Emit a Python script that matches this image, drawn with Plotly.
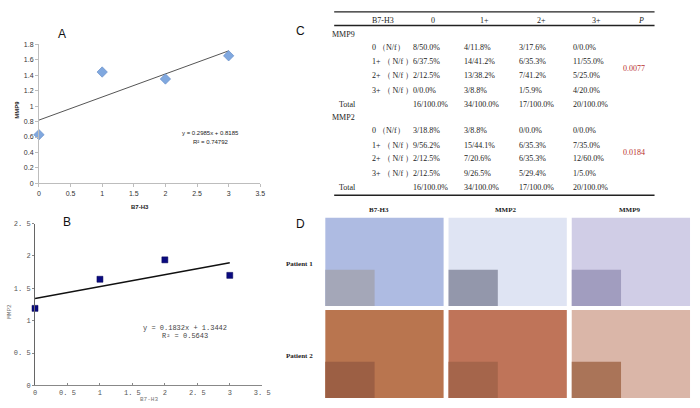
import plotly.graph_objects as go

W, H = 700, 408

# ---- panel A / B data ----
b7h3_score = [0, 1, 2, 3]
mmp9_mean = [0.63, 1.44, 1.35, 1.65]
mmp2_mean = [1.19, 1.64, 1.94, 1.70]
fit_a = [0.2985, 0.8185]   # slope, intercept
fit_b = [0.1832, 1.3442]
eq_a = ["y = 0.2985x + 0.8185", "R² = 0.74792"]
eq_b = ["y = 0.1832x + 1.3442", "R² = 0.5643"]

# ---- panel C table ----
table_head = ["B7-H3", "0", "1+", "2+", "3+", "P"]
levels = ["0 （N/f）", "1+ （ N/f ）", "2+ （ N/f ）", "3+ （ N/f ）"]
mmp9_n = [[8, 4, 3, 0], [6, 14, 6, 11], [2, 13, 7, 5], [0, 3, 1, 4]]
mmp9_pct = [[50.0, 11.8, 17.6, 0.0], [37.5, 41.2, 35.3, 55.0],
            [12.5, 38.2, 41.2, 25.0], [0.0, 8.8, 5.9, 20.0]]
mmp2_n = [[3, 3, 0, 0], [9, 15, 6, 7], [2, 7, 6, 12], [2, 9, 5, 1]]
mmp2_pct = [[18.8, 8.8, 0.0, 0.0], [56.2, 44.1, 35.3, 35.0],
            [12.5, 20.6, 35.3, 60.0], [12.5, 26.5, 29.4, 5.0]]
totals = [16, 34, 17, 20]
p_values = ["0.0077", "0.0184"]

# ---- panel D ----
stains = ["B7-H3", "MMP2", "MMP9"]
patients = ["Patient 1", "Patient 2"]


def px(x):
    return x / W


def py(y):
    return 1 - y / H


sans = "Liberation Sans, Arial, sans-serif"
serif = "Liberation Serif, Times New Roman, serif"
mono = "Liberation Mono, Courier New, monospace"

fig = go.Figure()

# A
fig.add_trace(go.Scatter(
    x=[b7h3_score[0], b7h3_score[-1]],
    y=[fit_a[1] + fit_a[0] * b7h3_score[0], fit_a[1] + fit_a[0] * b7h3_score[-1]],
    mode="lines", line=dict(color="#555555", width=1),
    xaxis="x", yaxis="y", showlegend=False, hoverinfo="skip"))
fig.add_trace(go.Scatter(
    x=b7h3_score, y=mmp9_mean, mode="markers",
    marker=dict(symbol="diamond", size=8, color="#80a8df",
                line=dict(color="#5f88c4", width=0.6)),
    xaxis="x", yaxis="y", showlegend=False, cliponaxis=False))

# B
fig.add_trace(go.Scatter(
    x=[b7h3_score[0], b7h3_score[-1]],
    y=[fit_b[1] + fit_b[0] * b7h3_score[0], fit_b[1] + fit_b[0] * b7h3_score[-1]],
    mode="lines", line=dict(color="#111111", width=1.5),
    xaxis="x2", yaxis="y2", showlegend=False, hoverinfo="skip"))
fig.add_trace(go.Scatter(
    x=b7h3_score, y=mmp2_mean, mode="markers",
    marker=dict(symbol="square", size=6, color="#0a0a80",
                line=dict(color="#000050", width=0.5)),
    xaxis="x2", yaxis="y2", showlegend=False, cliponaxis=False))

tick_a = dict(family=sans, size=7, color="#333333")
tick_b = dict(family=mono, size=7, color="#555555")
half_steps = [i * 0.5 for i in range(8)]

fig.update_layout(
    width=W, height=H,
    margin=dict(l=0, r=0, t=0, b=0),
    paper_bgcolor="white", plot_bgcolor="white",
    xaxis=dict(domain=[px(37.5), px(262)], range=[0, 3.5], dtick=0.5,
               showgrid=False, zeroline=False, showline=True,
               linecolor="#bdbdbd", ticks="outside", ticklen=3,
               tickcolor="#bdbdbd", tickfont=tick_a),
    yaxis=dict(domain=[py(183), py(41)], range=[0, 1.8], dtick=0.2,
               showgrid=False, zeroline=False, showline=True,
               linecolor="#bdbdbd", ticks="outside", ticklen=3,
               tickcolor="#bdbdbd", tickfont=tick_a),
    xaxis2=dict(domain=[px(33.5), px(264)], range=[0, 3.5],
                tickvals=half_steps,
                ticktext=[f"{v:g}".replace(".", ". ") for v in half_steps],
                showgrid=False, zeroline=False, showline=True,
                linecolor="#888888", ticks="inside", ticklen=2,
                tickcolor="#888888", tickfont=tick_b, anchor="y2"),
    yaxis2=dict(domain=[py(389), py(224)], range=[0, 2.5],
                tickvals=half_steps[:6],
                ticktext=[f"{v:g}".replace(".", ". ") for v in half_steps[:6]],
                showgrid=False, zeroline=False, showline=True,
                linecolor="#666666", ticks="outside", ticklen=2,
                tickcolor="#888888", tickfont=tick_b, anchor="x2"),
)

ann = []


def txt(x, y, s, size=8, family=serif, color="#222222", xanchor="left",
        yanchor="middle", **kw):
    ann.append(dict(x=px(x), y=py(y), xref="paper", yref="paper", text=s,
                    showarrow=False, xanchor=xanchor, yanchor=yanchor,
                    font=dict(family=family, size=size, color=color), **kw))


# panel letters
txt(61, 31, "A", size=12, family=sans, color="#111111", xanchor="center")
txt(66, 222, "B", size=12, family=sans, color="#111111", xanchor="center")
txt(303, 28, "C", size=12, family=sans, color="#111111", xanchor="center")
txt(303, 224, "D", size=12, family=sans, color="#111111", xanchor="center")

# A titles and equation
txt(140, 207, "<b>B7-H3</b>", size=6, family=sans, xanchor="center")
txt(15, 108, "<b>MMP9</b>", size=6, family=sans, xanchor="center", textangle=-90)
txt(212, 132, eq_a[0], size=6, family=sans, xanchor="center")
txt(212, 141, eq_a[1], size=6, family=sans, xanchor="center")

# B titles and equation
txt(149, 407.5, "B7-H3", size=6, family=mono, color="#777777", xanchor="center",
    yanchor="bottom", borderpad=0)
txt(8, 313, "MMP2", size=6, family=mono, color="#777777", xanchor="center", textangle=-90)
txt(186, 330, eq_b[0], size=7, family=mono, color="#444444", xanchor="center")
txt(186, 339, eq_b[1], size=7, family=mono, color="#444444", xanchor="center")

# C table
head_x = [373, 437, 490, 547, 603, 648]
for i, h in enumerate(table_head):
    if i == 0:
        txt(head_x[i], 17, h)
    elif h == "P":
        txt(head_x[i], 17, "<i>P</i>", xanchor="center")
    else:
        txt(head_x[i], 17, h, xanchor="center")

val_x = [415, 467, 522, 577]
blocks = [("MMP9", mmp9_n, mmp9_pct, 31, p_values[0]),
          ("MMP2", mmp2_n, mmp2_pct, 116, p_values[1])]
for name, counts, pcts, y0, pv in blocks:
    txt(333, y0, name)
    row_y = [y0 + 13, y0 + 28, y0 + 42, y0 + 57]
    for r, lev in enumerate(levels):
        txt(373, row_y[r], lev)
        for c in range(4):
            txt(val_x[c], row_y[r], f"{counts[r][c]}/{pcts[r][c]:.1f}%")
    txt(628, (row_y[1] + row_y[2]) / 2, pv, color="#b8312f")
    txt(340, y0 + 71, "Total")
    for c in range(4):
        txt(val_x[c], y0 + 71, f"{totals[c]}/100.0%")

# D labels
col_x = [328, 453, 578]
row_top = [218, 312]
stain_x = [382, 511, 637]
for i, s in enumerate(stains):
    txt(stain_x[i], 210, f"<b>{s}</b>", size=7, xanchor="center")
for j, p in enumerate(patients):
    txt(302, row_top[j] + 47, f"<b>{p}</b>", size=7, xanchor="center")

shapes = []
for yl in [8, 22, 195]:
    shapes.append(dict(type="line", xref="paper", yref="paper",
                       x0=px(337), x1=px(662), y0=py(yl), y1=py(yl),
                       line=dict(color="#222222", width=1.4)))

# micrograph tiles: main colour, inset colour
tile_colors = [
    [("#aebbe2", "#a4a7b8"), ("#dfe4f3", "#9397ab"), ("#d0cde6", "#a19dbf")],
    [("#b9754f", "#9c5f44"), ("#bf7459", "#a5654b"), ("#dab6a8", "#aa7458")],
]
for j in range(2):
    for i in range(3):
        main_c, inset_c = tile_colors[j][i]
        x0, y0 = col_x[i], row_top[j]
        shapes.append(dict(type="rect", xref="paper", yref="paper",
                           x0=px(x0), x1=px(x0 + 120), y0=py(y0 + 90), y1=py(y0),
                           fillcolor=main_c, line=dict(width=0), layer="below"))
        shapes.append(dict(type="rect", xref="paper", yref="paper",
                           x0=px(x0), x1=px(x0 + 50), y0=py(y0 + 90), y1=py(y0 + 53),
                           fillcolor=inset_c, line=dict(width=0), layer="below"))

fig.update_layout(annotations=ann, shapes=shapes)
# page body has a default margin; drop it so the figure sits at the corner
fig.write_html("out.html",
               config={"displayModeBar": False},
               post_script="document.body.style.margin='0px';")
